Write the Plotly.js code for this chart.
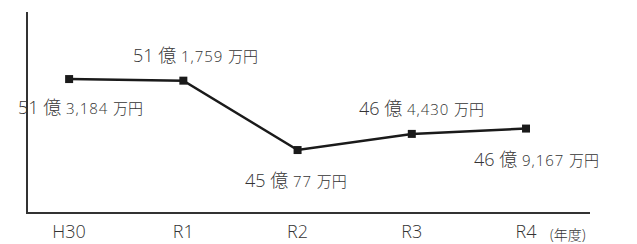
<!DOCTYPE html>
<html><head><meta charset="utf-8">
<script src="https://cdn.plot.ly/plotly-3.0.1.min.js"></script>
<style>html,body{margin:0;padding:0;background:#fff}</style>
</head><body>
<div id="chart" style="width:637px;height:244px"></div>
<script>
const categories = ["H30", "R1", "R2", "R3", "R4"];
const valuesOku = [51.3184, 51.1759, 45.0077, 46.4430, 46.9167];
const labelOku = ["51", "51", "45", "46", "46"];
const labelMan = ["3,184", "1,759", "77", "4,430", "9,167"];
const unitLabel = "(年度)";

const FONT = "'Open Sans', 'Noto Sans CJK JP', sans-serif";
const xIdx = categories.map((c, i) => i);
const shifts = [[11, -28], [12, 26], [-2, -30], [10, 26], [10, -30]];

const annotations = categories.map((c, i) => ({
  x: i, y: valuesOku[i], xref: 'x', yref: 'y',
  text: labelOku[i] + ' 億 <span style="font-size:15px;letter-spacing:1px">' + labelMan[i] + '</span> <span style="font-size:15px">万円</span>',
  showarrow: false, xshift: shifts[i][0], yshift: shifts[i][1],
  font: {family: FONT, size: 18, color: '#333', weight: 300}
}));
annotations.push({
  x: 4, y: 0, xref: 'x', yref: 'paper', yanchor: 'middle',
  text: unitLabel, showarrow: false, xshift: 42, yshift: -22,
  font: {family: FONT, size: 14, color: '#333', weight: 300}
});

Plotly.newPlot('chart', [{
  x: xIdx, y: valuesOku, type: 'scatter', mode: 'lines+markers',
  line: {color: '#1a1a1a', width: 2.5},
  marker: {symbol: 'square', size: 8, color: '#1a1a1a'},
  hoverinfo: 'skip'
}], {
  width: 637, height: 244,
  margin: {l: 28, r: 47, t: 12, b: 32},
  paper_bgcolor: '#fff', plot_bgcolor: '#fff',
  showlegend: false,
  xaxis: {
    range: [-0.36, 4.56], tickmode: 'array', tickvals: xIdx, ticktext: categories,
    showgrid: false, zeroline: false, showline: true, linecolor: '#333', linewidth: 2,
    ticks: '', tickfont: {family: FONT, size: 18, color: '#333', weight: 300}, ticklen: 0,
    ticklabelstandoff: 2
  },
  yaxis: {
    range: [39.5, 57.28], showgrid: false, zeroline: false, showline: true,
    linecolor: '#333', linewidth: 2, showticklabels: false, ticks: ''
  },
  annotations: annotations
}, {staticPlot: true});
</script>
</body></html>
